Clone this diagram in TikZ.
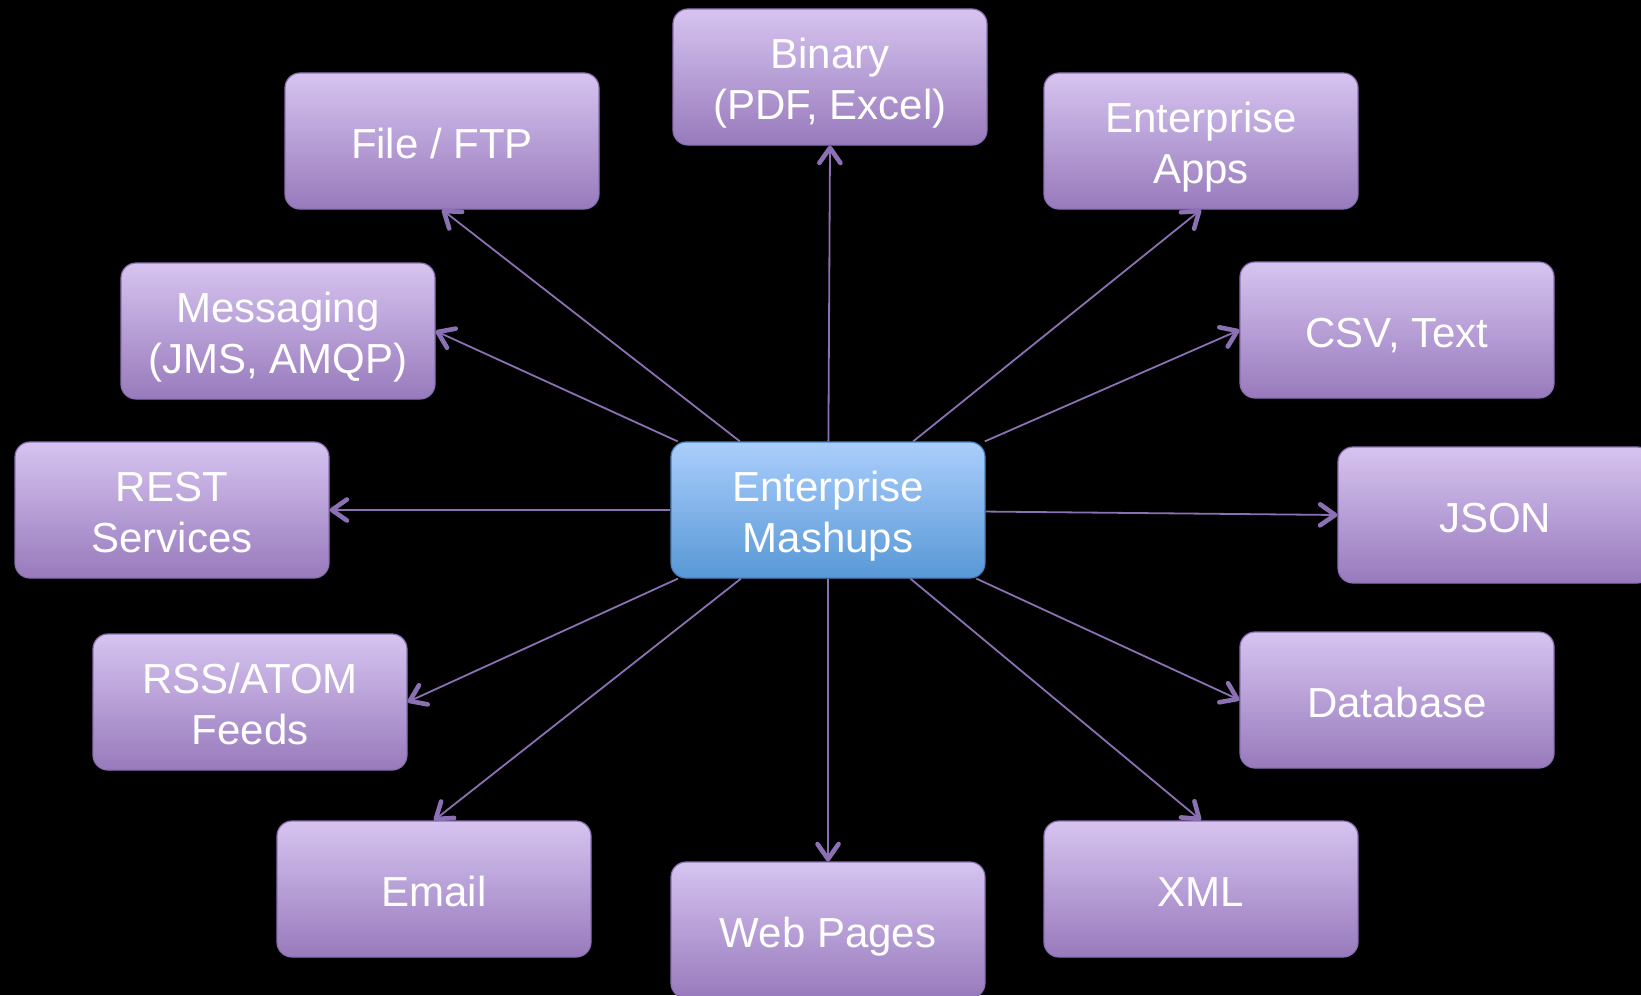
\documentclass[tikz,border=0pt]{standalone}
\usepackage{fontspec}
\setmainfont{Liberation Sans}
\usetikzlibrary{arrows.meta}
\definecolor{boxtop}{RGB}{214,196,240}
\definecolor{boxbot}{RGB}{152,122,188}
\definecolor{boxline}{RGB}{140,112,180}
\definecolor{hubtop}{RGB}{170,206,252}
\definecolor{hubbot}{RGB}{88,152,214}
\definecolor{hubline}{RGB}{74,128,190}
\definecolor{linkcol}{RGB}{140,112,180}
\newcommand\tstrut{\rule{0pt}{21.5pt}}
\tikzset{
  box/.style={draw=boxline, line width=0.6pt, rounded corners=7.5pt,
    top color=boxtop, bottom color=boxbot, minimum width=157pt,
    minimum height=68pt, align=center, text=white,
    font=\fontsize{21}{25.5}\selectfont,
    execute at end node={\rule[-4.5pt]{0pt}{4.5pt}}},
  hub/.style={box, draw=hubline, top color=hubtop, bottom color=hubbot},
  link/.style={draw=linkcol, line width=0.9pt,
    -{Straight Barb[length=7.5pt,width=10.5pt,line width=2.3pt,round]}}
}
\begin{document}
\begin{tikzpicture}[x=0.5pt,y=-0.5pt]
\fill[black] (0,0) rectangle (1641,995);
\useasboundingbox (0,0) rectangle (1641,995);
\clip (0,0) rectangle (1641,995);

\node[hub] (hub) at (828,510) {\tstrut Enterprise\\Mashups};

\node[box] (binary) at (830,77) {\tstrut Binary\\(PDF, Excel)};
\node[box] (file) at (442,141) {\tstrut File / FTP};
\node[box] (apps) at (1201,141) {\tstrut Enterprise\\Apps};
\node[box] (msg) at (278,331) {\tstrut Messaging\\(JMS, AMQP)};
\node[box] (csv) at (1397,330) {\tstrut CSV, Text};
\node[box] (rest) at (172,510) {\tstrut REST\\Services};
\node[box] (json) at (1495,515) {\tstrut JSON};
\node[box] (rss) at (250,702) {\tstrut RSS/ATOM\\Feeds};
\node[box] (db) at (1397,700) {\tstrut Database};
\node[box] (email) at (434,889) {\tstrut Email};
\node[box] (xml) at (1201,889) {\tstrut XML};
\node[box] (web) at (828,930) {\tstrut Web Pages};

\draw[link] (hub) -- (binary.south);
\draw[link] (hub) -- (file.south);
\draw[link] (hub) -- (apps.south);
\draw[link] (hub) -- (msg.east);
\draw[link] (hub) -- (csv.west);
\draw[link] (hub) -- (rest.east);
\draw[link] (hub) -- (json.west);
\draw[link] (hub) -- (rss.east);
\draw[link] (hub) -- (db.west);
\draw[link] (hub) -- (email.north);
\draw[link] (hub) -- (xml.north);
\draw[link] (hub) -- (web.north);

\end{tikzpicture}
\end{document}
